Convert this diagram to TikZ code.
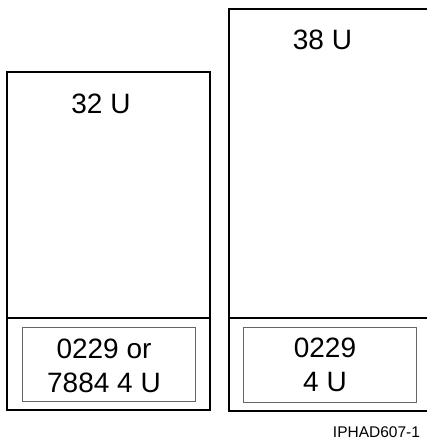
\documentclass[tikz,border=0pt]{standalone}
\usepackage{fontspec}
\setmainfont{Liberation Sans}
\begin{document}
\begin{tikzpicture}[x=1pt,y=-1pt,
  outer/.style={draw=black,line width=1.3pt},
  inner/.style={draw=black!60,line width=1pt},
  big/.style={font=\fontsize{28}{34}\selectfont,inner sep=0pt,align=center,anchor=base},
  tag/.style={font=\fontsize{15.5}{17}\selectfont,inner sep=0pt,anchor=base}]
\useasboundingbox (0,0) rectangle (427,440);
% left cabinet
\draw[outer] (7,72) rectangle (210,410);
\draw[outer] (7,318) -- (210,318);
\draw[inner] (22,327) rectangle (195,401);
% right cabinet (cut at right edge)
\draw[outer] (428,9) -- (229,9) -- (229,411) -- (428,411);
\draw[outer] (229,318) -- (428,318);
\draw[inner] (243,327) -- (416,327) -- (416,402) -- (243,402) -- cycle;
% labels
\node[big] (l32) at (101,113.3) {32 U};
\node[big] (l38) at (322.5,49.3) {38 U};
\node[big] (lin) at (104,392) {0229 or\\7884 4 U};
\node[big] (rin) at (325,391.5) {0229\\4 U};
\node[tag] (id) at (376.5,437.7) {IPHAD607-1};
\end{tikzpicture}
\end{document}
